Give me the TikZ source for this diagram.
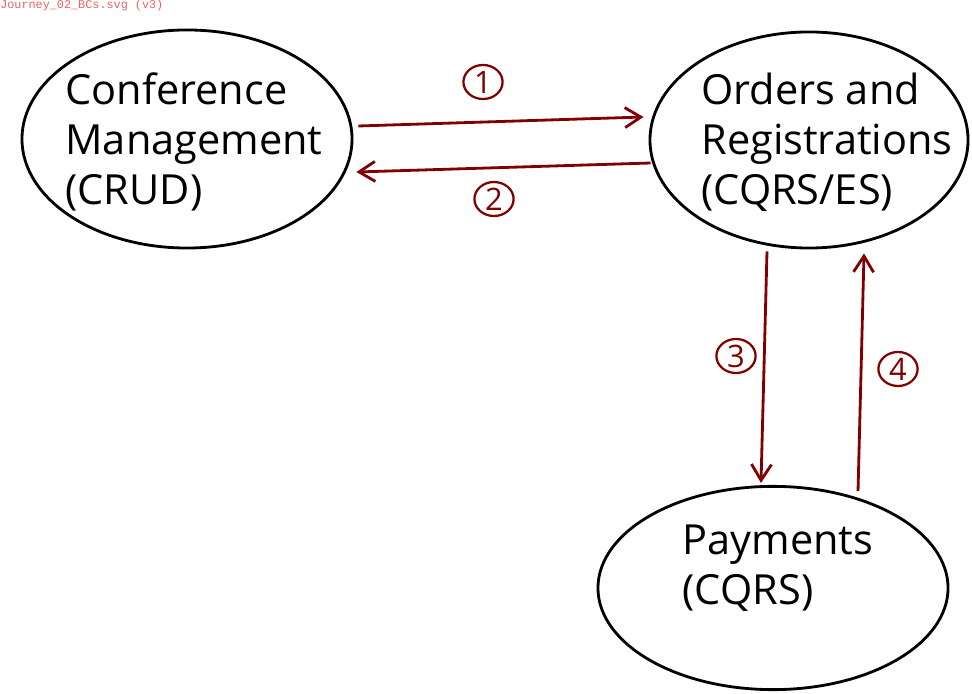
\documentclass[tikz,border=0pt]{standalone}
\usepackage{fontspec}
\setmainfont{Open Sans}
\setmonofont{Liberation Mono}
\usetikzlibrary{arrows.meta,shapes.geometric}
\definecolor{mMaroon}{RGB}{128,0,0}
\definecolor{mCaption}{RGB}{240,96,96}
\tikzset{
context/.style={ellipse,draw=black,line width=2pt,inner sep=0pt},
contextlabel/.style={align=left,inner sep=0pt,font=\fontsize{29.5}{35.5}\selectfont},
seqmark/.style={ellipse,draw=mMaroon,line width=1.6pt,text=mMaroon,inner sep=0pt,minimum width=0.98cm,minimum height=0.85cm,font=\fontsize{22}{22}\selectfont},
flow/.style={-{Straight Barb[length=4mm,width=5mm]},line width=2pt,draw=mMaroon}
}
\begin{document}
\begin{tikzpicture}[x=0.025cm,y=-0.025cm]
\useasboundingbox (0,0) rectangle (972,694);
\node[anchor=north west,inner sep=0pt,text=mCaption,font=\ttfamily\fontsize{8.4}{10}\selectfont] (caption) at (0,0) {Journey\_02\_BCs.svg (v3)};
% bounded contexts
\node[context,minimum width=8.25cm,minimum height=5.45cm] (conf) at (187,139) {};
\node[context,minimum width=7.95cm,minimum height=5.4cm] (orders) at (809,140) {};
\node[context,minimum width=8.75cm,minimum height=5.08cm] (payments) at (773,588) {};
\node[contextlabel] (conftext) at (194,142) {Conference\\Management\\(CRUD)};
\node[contextlabel] (orderstext) at (827,142) {Orders and\\Registrations\\(CQRS/ES)};
\node[contextlabel] (paymentstext) at (778,568) {Payments\\(CQRS)};
% interactions
\draw[flow] ([xshift=0.125cm,yshift=0.325cm]conf.east) -- ([xshift=-0.125cm,yshift=0.575cm]orders.west);
\draw[flow] ([xshift=0.05cm,yshift=-0.575cm]orders.west) -- ([xshift=0.075cm,yshift=-0.825cm]conf.east);
\draw[flow] ([xshift=-1.05cm,yshift=-0.05cm]orders.south) -- ([xshift=-0.3cm,yshift=0.05cm]payments.north);
\draw[flow] ([xshift=2.125cm,yshift=-0.15cm]payments.north) -- ([xshift=1.375cm,yshift=-0.1cm]orders.south);
\node[seqmark] (m1) at (483,82) {1};
\node[seqmark] (m2) at (494,199) {2};
\node[seqmark] (m3) at (736,356) {3};
\node[seqmark] (m4) at (898,369) {4};
\end{tikzpicture}
\end{document}
